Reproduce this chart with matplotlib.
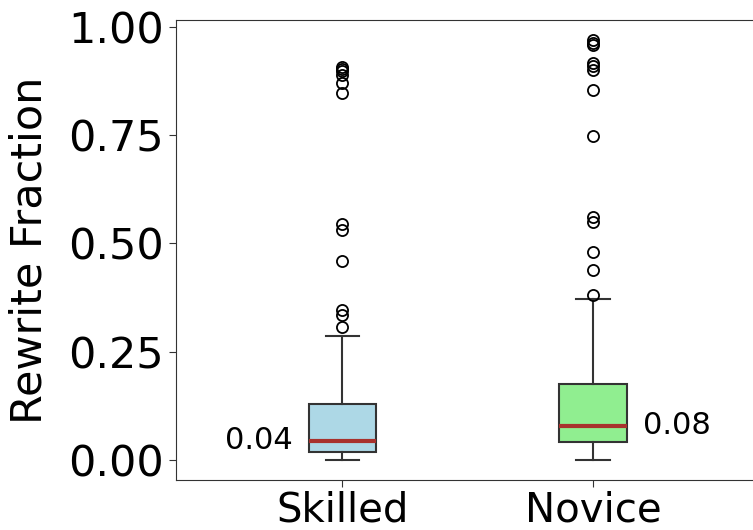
import matplotlib
matplotlib.use("Agg")
import matplotlib.pyplot as plt

# Summary statistics per group
groups = ["Skilled", "Novice"]
q1 = [0.019, 0.041]
medians = [0.0445, 0.079]
q3 = [0.129, 0.175]
whisker_low = [0.0, 0.0]
whisker_high = [0.286, 0.372]
outliers_skilled = [0.308, 0.335, 0.346, 0.459, 0.531, 0.546,
                    0.846, 0.869, 0.888, 0.898, 0.903, 0.908]
outliers_novice = [0.382, 0.438, 0.480, 0.550, 0.561,
                   0.748, 0.855, 0.900, 0.910, 0.916, 0.958, 0.963, 0.969]
box_colors = ["#ADD8E6", "#90EE90"]
median_labels = ["0.04", "0.08"]

stats = []
for i, name in enumerate(groups):
    stats.append({
        "label": name,
        "q1": q1[i], "med": medians[i], "q3": q3[i],
        "whislo": whisker_low[i], "whishi": whisker_high[i],
        "fliers": [outliers_skilled, outliers_novice][i],
    })

fig = plt.figure(figsize=(7.53, 5.30), dpi=100)
ax = fig.add_axes([0.2333, 0.0938, 0.776, 0.8685])

bp = ax.bxp(
    stats, positions=[1, 2], widths=0.27, patch_artist=True,
    boxprops=dict(edgecolor="#333333", linewidth=1.5),
    whiskerprops=dict(color="#333333", linewidth=1.5),
    capprops=dict(color="#333333", linewidth=1.5),
    medianprops=dict(color="#A8322D", linewidth=3),
    flierprops=dict(marker="o", markerfacecolor="none",
                    markeredgecolor="black", markersize=8,
                    markeredgewidth=1.3),
)
for patch, c in zip(bp["boxes"], box_colors):
    patch.set_facecolor(c)

# Median value annotations beside each box
ax.text(0.80, medians[0], median_labels[0], ha="right", va="center",
        fontsize=22)
ax.text(2.20, medians[1], median_labels[1], ha="left", va="center",
        fontsize=22)

ax.set_xlim(0.335, 2.665)
ax.set_ylim(-0.0462, 1.0154)
ax.set_yticks([0.0, 0.25, 0.5, 0.75, 1.0])
ax.set_yticklabels(["0.00", "0.25", "0.50", "0.75", "1.00"])
ax.set_xticks([1, 2])
ax.set_xticklabels(groups)
ax.tick_params(axis="both", length=5, color="#333333")
ax.tick_params(axis="y", labelsize=31)
ax.tick_params(axis="x", labelsize=29, pad=2)
ax.set_ylabel("Rewrite Fraction", fontsize=31, labelpad=13)
for s in ax.spines.values():
    s.set_color("#333333")

fig.savefig("out.png", dpi=100)
